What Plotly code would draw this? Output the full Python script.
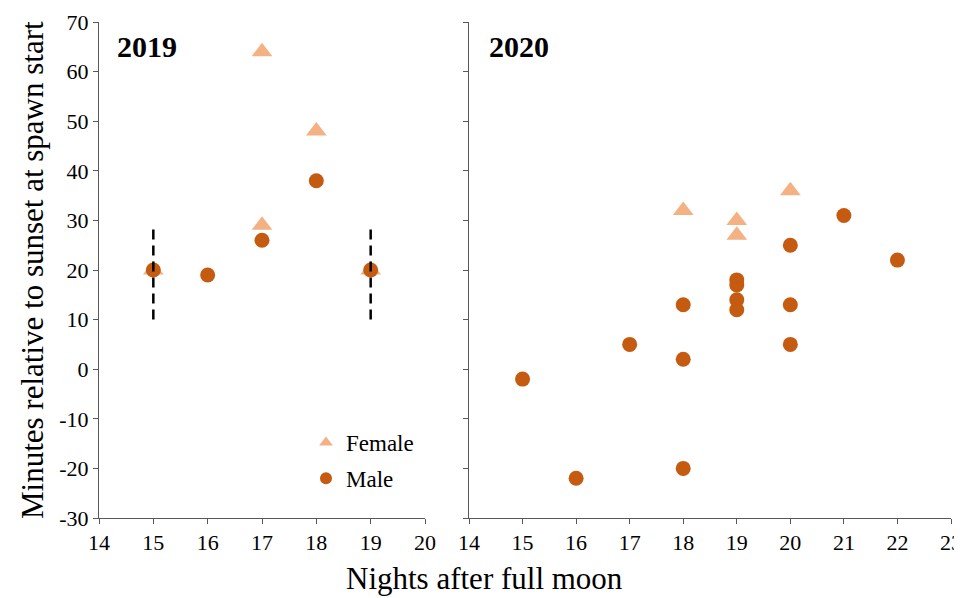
import plotly.graph_objects as go

# 2019 data
f19_x = [15, 17, 17, 18, 19]
f19_y = [20, 64, 29, 48, 20]
m19_x = [15, 16, 17, 18, 19]
m19_y = [20, 19, 26, 38, 20]
rng19_x = [15, 19]
rng19_low = [10, 10]
rng19_high = [29, 29]

# 2020 data
f20_x = [18, 19, 19, 20]
f20_y = [32, 30, 27, 36]
m20_x = [15, 16, 17, 18, 18, 18, 19, 19, 19, 19, 20, 20, 20, 21, 22]
m20_y = [-2, -22, 5, 13, 2, -20, 18, 17, 14, 12, 25, 13, 5, 31, 22]

x19_ticks = [14, 15, 16, 17, 18, 19, 20]
x20_ticks = [14, 15, 16, 17, 18, 19, 20, 21, 22, 23]
y_ticks = [-30, -20, -10, 0, 10, 20, 30, 40, 50, 60, 70]
y_ticktext = ["-30", "-20", "-10", "0", "10", "20", "30", "40", "50", "60", "70"]

FEM = "#F4B183"
MAL = "#C55A11"
FONT = "Liberation Serif"
AX = "#595959"

# page body has an 8px margin; figure sized to fill the rest of the window
OFF = 8
W, H = 962 - OFF, 598 - OFF


def px(x):
    return (x - OFF) / W


def py(y):
    return 1 - (y - OFF) / H


fig = go.Figure()
fig.add_trace(go.Scatter(x=f19_x, y=f19_y, mode="markers", name="Female", legendgroup="f",
                         marker=dict(symbol="triangle-up", size=18, color=FEM),
                         xaxis="x", yaxis="y"))
fig.add_trace(go.Scatter(x=m19_x, y=m19_y, mode="markers", name="Male", legendgroup="m",
                         marker=dict(symbol="circle", size=15, color=MAL),
                         xaxis="x", yaxis="y"))
for xv, lo, hi in zip(rng19_x, rng19_low, rng19_high):
    fig.add_trace(go.Scatter(x=[xv, xv], y=[lo, hi], mode="lines", showlegend=False,
                             line=dict(color="black", width=2.5, dash="10px,6px"),
                             xaxis="x", yaxis="y"))
fig.add_trace(go.Scatter(x=f20_x, y=f20_y, mode="markers", showlegend=False,
                         marker=dict(symbol="triangle-up", size=18, color=FEM),
                         xaxis="x2", yaxis="y2"))
fig.add_trace(go.Scatter(x=m20_x, y=m20_y, mode="markers", showlegend=False,
                         marker=dict(symbol="circle", size=15, color=MAL),
                         xaxis="x2", yaxis="y2"))

ydom = [py(518), py(22)]
axcommon = dict(showgrid=False, zeroline=False, showline=True, linecolor=AX, linewidth=1,
                ticks="outside", ticklen=5, tickcolor=AX, automargin=False,
                tickfont=dict(family=FONT, size=22, color="black"))

fig.update_layout(
    width=W, height=H, margin=dict(l=0, r=0, t=0, b=0, autoexpand=False),
    paper_bgcolor="white", plot_bgcolor="white",
    font=dict(family=FONT, color="black"),
    xaxis=dict(domain=[px(99), px(425)], range=[14, 20], tickvals=x19_ticks, anchor="y", **axcommon),
    yaxis=dict(domain=ydom, range=[-30, 70], tickvals=y_ticks, ticktext=y_ticktext, anchor="x",
               **axcommon),
    xaxis2=dict(domain=[px(469), px(951)], range=[14, 23], tickvals=x20_ticks, anchor="y2", **axcommon),
    yaxis2=dict(domain=ydom, range=[-30, 70], tickvals=y_ticks, anchor="x2", showticklabels=False,
                **axcommon),
    legend=dict(x=px(306), y=py(421), xanchor="left", yanchor="top",
                font=dict(family=FONT, size=23, color="black"), bgcolor="rgba(0,0,0,0)",
                itemsizing="constant", traceorder="grouped", tracegroupgap=3),
    annotations=[
        dict(text="<b>2019</b>", x=px(115), y=py(47), xref="paper", yref="paper",
             xanchor="left", yanchor="middle", showarrow=False,
             font=dict(family=FONT, size=30, color="black")),
        dict(text="<b>2020</b>", x=px(487), y=py(47), xref="paper", yref="paper",
             xanchor="left", yanchor="middle", showarrow=False,
             font=dict(family=FONT, size=30, color="black")),
        dict(text="Nights after full moon", x=px(484), y=py(578), xref="paper", yref="paper",
             xanchor="center", yanchor="middle", showarrow=False,
             font=dict(family=FONT, size=31, color="black")),
        dict(text="Minutes relative to sunset at spawn start", x=px(32), y=py(270),
             xref="paper", yref="paper", xanchor="center", yanchor="middle", showarrow=False,
             textangle=-90, font=dict(family=FONT, size=31, color="black")),
    ],
)

fig.write_html("out.html")
